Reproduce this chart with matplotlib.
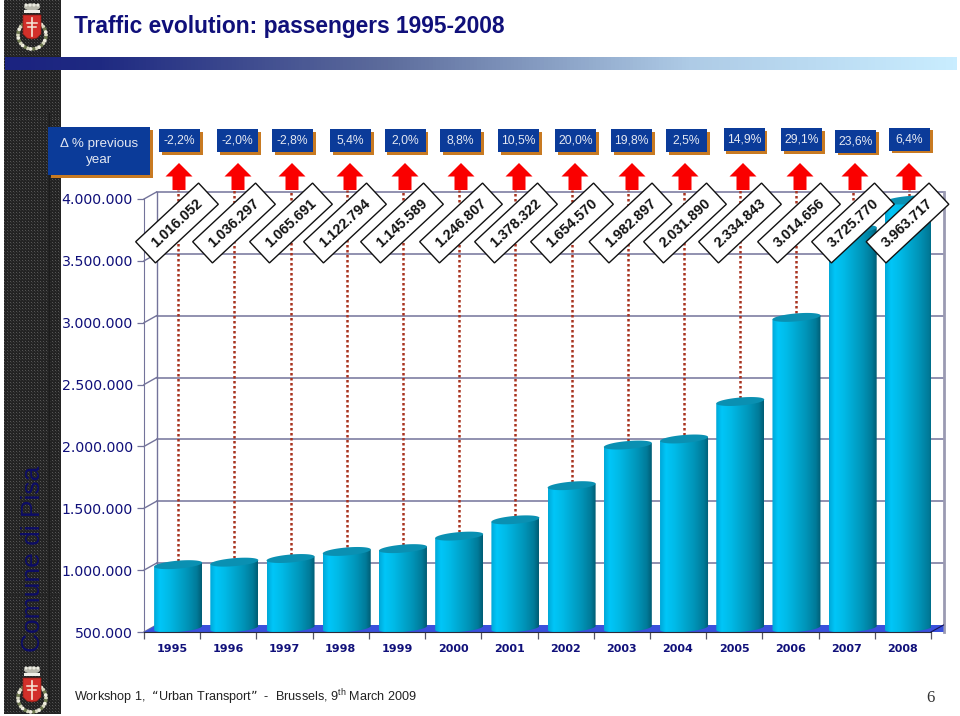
import numpy as np
import matplotlib
matplotlib.use("Agg")
import matplotlib.pyplot as plt
from matplotlib.patches import Polygon, Rectangle, Circle, Ellipse
from matplotlib.colors import LinearSegmentedColormap
from matplotlib.ticker import FuncFormatter

years = [1995, 1996, 1997, 1998, 1999, 2000, 2001, 2002, 2003, 2004, 2005, 2006, 2007, 2008]
passengers = [1016052, 1036297, 1065691, 1122794, 1145589, 1246807, 1378322,
              1654570, 1982897, 2031890, 2334843, 3014656, 3725770, 3963717]
pct_labels = ["-2,2%", "-2,0%", "-2,8%", "5,4%", "2,0%", "8,8%", "10,5%",
              "20,0%", "19,8%", "2,5%", "14,9%", "29,1%", "23,6%", "6,4%"]
y_ticks = [500000, 1000000, 1500000, 2000000, 2500000, 3000000, 3500000, 4000000]

# layout, in pixels of the slide
pct_box_x = [159, 217, 272, 330, 384.5, 440, 498, 555, 611, 666, 723.5, 781, 835, 889]
pct_box_y = [129, 129, 129, 129, 129, 129, 129, 129, 129, 129, 128, 128, 129.5, 127.5]
arrow_x = [179, 238, 292, 350, 405, 461, 519, 575, 632, 685, 743, 800, 855, 909]
diag_x = [177, 234, 291, 345, 402, 461, 516, 572, 630.5, 685, 740, 799, 853, 907.5]

NAVY = "#10107a"
W, H = 960, 716
plt.rcParams["font.family"] = ["Liberation Sans", "DejaVu Sans"]
plt.rcParams["mathtext.default"] = "regular"

fig = plt.figure(figsize=(W / 100, H / 100), dpi=100, facecolor="white")

# full slide axes, pixel coords, behind the chart
bg = fig.add_axes([0, 0, 1, 1], zorder=0)
bg.set_xlim(0, W)
bg.set_ylim(H, 0)
bg.axis("off")

tile = np.full((3, 3), 0.14)
tile[0, 0] = 0.33
tile[1, 1] = 0.2
side = np.tile(tile, (239, 19))
bg.imshow(side, cmap="gray", vmin=0, vmax=1, extent=(4, 61, 714, 0), aspect="auto", interpolation="nearest")
bg.plot([49, 49], [112, 700], color="#1c1c1c", lw=0.8)

band_cmap = LinearSegmentedColormap.from_list(
    "band", [(0, "#1b2380"), (0.1, "#1f2a82"), (0.4, "#5d6c9c"), (0.72, "#aecbe6"), (1, "#c9edff")])
bg.imshow(np.linspace(0, 1, 256).reshape(1, -1), cmap=band_cmap, extent=(5, 957, 70, 57), aspect="auto")
bg.set_xlim(0, W)
bg.set_ylim(H, 0)


def draw_emblem(a, cx, cy):
    # wreath
    for k, t in enumerate(np.linspace(0, 2 * np.pi, 30, endpoint=False)):
        c = ["#d8d8c0", "#6f7a50", "#f0eee0"][k % 3]
        a.add_patch(Circle((cx + 14 * np.cos(t), cy + 8 + 14 * np.sin(t)), 1.9, color=c, lw=0))
    # crown
    a.add_patch(Ellipse((cx, cy - 20), 16, 7, color="#b9b9ad", lw=0))
    for dx in (-6, -2, 2, 6):
        a.add_patch(Circle((cx + dx, cy - 22), 1.6, color="#ecece2", lw=0))
    a.add_patch(Rectangle((cx - 8, cy - 17), 16, 2.5, color="#f0f0e8", lw=0))
    # shield
    a.add_patch(Polygon([(cx - 9, cy - 12), (cx + 9, cy - 12), (cx + 9, cy + 7), (cx + 5, cy + 11), (cx, cy + 12),
                         (cx - 5, cy + 11), (cx - 9, cy + 7)],
                        closed=True, facecolor="#d2302a", edgecolor="#8a1a14", lw=0.5))
    a.plot([cx, cx], [cy - 9, cy + 9], color="#f4e8d8", lw=1.2)
    a.plot([cx - 5, cx + 5], [cy - 4, cy - 4], color="#f4e8d8", lw=1.1)
    a.plot([cx - 4, cx + 4], [cy, cy], color="#f4e8d8", lw=1.1)


draw_emblem(bg, 32, 27)
draw_emblem(bg, 32, 690)

bg.text(33, 559, "Comune di Pisa", rotation=90, color="#0c0c66", fontsize=19, ha="center", va="center")
bg.text(74, 27, "Traffic evolution: passengers 1995-2008", color=NAVY, fontsize=16.4,
        fontweight="bold", ha="left", va="center")
bg.text(74, 697, "Workshop 1,  \u201cUrban Transport\u201d  -  Brussels, 9$^{th}$ March 2009", color="#222222",
        fontsize=9.1, ha="left", va="center")
bg.text(930, 698, "6", color="#333333", fontsize=12, family="Liberation Serif", ha="center", va="center")

# the chart itself
left, right, bottom, top = 144, 931, 632, 199
ax = fig.add_axes([left / W, 1 - bottom / H, (right - left) / W, (bottom - top) / H], zorder=1)
ax.patch.set_alpha(0)
n = len(years)
ax.set_xlim(-0.5, n - 0.5)
ax.set_ylim(500000, 4000000)

px_x = n / (right - left)
px_y = 3500000 / (bottom - top)
depth_x = 12.5 * px_x
depth_y = 7 * px_y
wall = "#73739a"

for v in y_ticks:
    ax.plot([-0.5, -0.5 + depth_x], [v, v + depth_y], color=wall, lw=1, clip_on=False, zorder=1)
    if v > y_ticks[0]:
        ax.plot([-0.5 + depth_x, n - 0.5 + depth_x], [v + depth_y, v + depth_y], color=wall, lw=1.1,
                clip_on=False, zorder=1)
ax.plot([-0.5 + depth_x] * 2, [500000 + depth_y, 4000000 + depth_y], color=wall, lw=1, clip_on=False, zorder=1)
ax.plot([n - 0.5 + depth_x] * 2, [500000, 4000000 + depth_y], color="#9a9ab2", lw=2, clip_on=False, zorder=1)

floor = Polygon([(-0.5, 500000), (-0.5 + depth_x, 500000 + depth_y), (n - 0.5 + depth_x, 500000 + depth_y),
                 (n - 0.5 + depth_x, 500000), (n - 0.5, 500000)], closed=True,
                facecolor="#3a50dc", edgecolor="none", clip_on=False, zorder=1.5)
ax.add_patch(floor)
ax.plot([n - 0.5, n - 0.5 + depth_x], [500000, 500000 + depth_y], color="#14145a", lw=0.8, clip_on=False, zorder=1.6)

cyl_cmap = LinearSegmentedColormap.from_list(
    "cyl", [(0, "#00a8d8"), (0.12, "#00c6f8"), (0.3, "#00bbe8"), (0.7, "#0094b8"), (0.9, "#007a98"), (1, "#005c74")])
grad = np.linspace(0, 1, 128).reshape(1, -1)
bar_dx = 6 * px_x
bar_w = 48 * px_x
semi_h = 4 * px_y
tilt = 2 * px_y
t_low = np.linspace(np.pi, 2 * np.pi, 40)
t_all = np.linspace(0, 2 * np.pi, 80)
dot_top = 4000000 + 9 * px_y

for i, v in enumerate(passengers):
    cx = i + bar_dx
    ytop = v + 3.5 * px_y
    ybot = 500000 + 4 * px_y
    # bottom edge, left to right, then back up along the top
    xs = cx + bar_w / 2 * np.cos(t_low)
    ys = ybot + semi_h * np.sin(t_low) + tilt * np.cos(t_low)
    body = Polygon(np.r_[np.c_[xs, ys], [[cx + bar_w / 2, ytop + tilt], [cx - bar_w / 2, ytop - tilt]]],
                   closed=True, transform=ax.transData, facecolor="none", edgecolor="none")
    ax.add_patch(body)
    body.set_clip_on(False)
    im = ax.imshow(grad, cmap=cyl_cmap, extent=(cx - bar_w / 2, cx + bar_w / 2, ybot - 2 * semi_h, ytop + tilt),
                   aspect="auto", zorder=3, clip_on=True)
    im.set_clip_path(body)
    xe = cx + bar_w / 2 * np.cos(t_all)
    ye = ytop + semi_h * np.sin(t_all) + tilt * np.cos(t_all)
    ax.add_patch(Polygon(np.c_[xe, ye], closed=True, facecolor="#0a90b2", edgecolor="none", clip_on=False, zorder=3.2))
    ax.plot([cx, cx], [ytop + semi_h, dot_top], color="#a8321f", lw=1.8, ls=(0, (1, 1)), clip_on=False, zorder=2)

ax.set_xlim(-0.5, n - 0.5)
ax.set_ylim(500000, 4000000)

for s in ("top", "right"):
    ax.spines[s].set_visible(False)
ax.spines["left"].set_color(wall)
ax.spines["bottom"].set_color("#2a2a3a")
ax.spines["left"].set_zorder(1)
ax.spines["bottom"].set_zorder(4)

ax.set_yticks(y_ticks)
ax.yaxis.set_major_formatter(FuncFormatter(lambda v, p: f"{int(v):,}".replace(",", ".")))
ax.tick_params(axis="y", length=5, width=0.9, color=wall, pad=3, labelcolor=NAVY, labelsize=10.2)
for lab in ax.get_yticklabels():
    lab.set_family("DejaVu Sans")

ax.set_xticks(np.arange(n + 1) - 0.5)
ax.set_xticklabels([])
ax.set_xticks(np.arange(n), minor=True)
ax.set_xticklabels(years, minor=True, fontweight="bold", fontsize=8, color=NAVY, family="DejaVu Sans")
ax.tick_params(axis="x", which="major", length=5, width=0.9, color="#555566")
ax.tick_params(axis="x", which="minor", length=0, pad=9)

# boxes, arrows and tags go over the chart
fg = fig.add_axes([0, 0, 1, 1], zorder=2)
fg.set_xlim(0, W)
fg.set_ylim(H, 0)
fg.axis("off")

BOX = "#0b3b99"
SHADOW = "#c87a22"
fg.add_patch(Rectangle((51, 130), 102, 48, color=SHADOW, lw=0))
fg.add_patch(Rectangle((48, 127), 102, 48, color=BOX, lw=0))
fg.text(99, 144, "\u0394 % previous", color="#e4e8f2", fontsize=9.6, ha="center", va="center")
fg.text(99, 160, "year", color="#e4e8f2", fontsize=9.6, ha="center", va="center")

angle = 43
ux, uy = np.cos(np.radians(angle)), -np.sin(np.radians(angle))
vx, vy = -uy, ux
for i in range(n):
    bx, by = pct_box_x[i], pct_box_y[i]
    fg.add_patch(Rectangle((bx + 2.5, by + 2.5), 41, 23, color=SHADOW, lw=0))
    fg.add_patch(Rectangle((bx, by), 41, 23, color=BOX, lw=0))
    fg.text(bx + 20.5, by + 11.5, pct_labels[i], color="#e4e8f2", fontsize=8.7, ha="center", va="center")

    ax0 = arrow_x[i]
    fg.add_patch(Polygon([(ax0, 163), (ax0 + 13.5, 176.5), (ax0 + 6.5, 176.5), (ax0 + 6.5, 190),
                          (ax0 - 6.5, 190), (ax0 - 6.5, 176.5), (ax0 - 13.5, 176.5)],
                         closed=True, color="#fa0000", lw=0))

    dx0 = diag_x[i]
    hl, hw = 43, 14.5
    corners = [(dx0 + sx * hl * ux + sy * hw * vx, 223 + sx * hl * uy + sy * hw * vy)
               for sx, sy in ((-1, -1), (1, -1), (1, 1), (-1, 1))]
    fg.add_patch(Polygon(corners, closed=True, facecolor="white", edgecolor="#111111", lw=1.0))
    fg.text(dx0, 223, f"{passengers[i]:,}".replace(",", "."), rotation=angle, rotation_mode="anchor",
            color="#111111", fontsize=10.4, fontweight="bold", ha="center", va="center")

fig.savefig("out.png", dpi=100)
